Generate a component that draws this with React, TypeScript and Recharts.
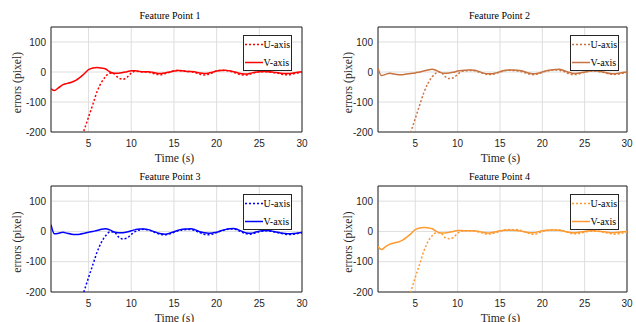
import React from 'react';
import { LineChart, Line, XAxis, YAxis, CartesianGrid, Legend, ReferenceArea } from 'recharts';

// sample times (s)
const TIME = [
  0.6, 1, 1.5, 2, 2.5, 3, 3.5, 4, 4.5, 5, 5.5, 6, 6.5, 7, 7.5, 8, 8.5, 9, 9.5, 10,
  10.5, 11, 11.5, 12, 12.5, 13, 13.5, 14, 14.5, 15, 15.5, 16, 16.5, 17, 17.5, 18, 18.5, 19, 19.5, 20,
  20.5, 21, 21.5, 22, 22.5, 23, 23.5, 24, 24.5, 25, 25.5, 26, 26.5, 27, 27.5, 28, 28.5, 29, 29.5, 30,
];

const N = null;

// Feature point 1
const U1 = [
  N, N, N, N, N, N, N, -235, -192, -150, -108, -65, -35, -15, -4, -6, -20, -24, -18, -4,
  3, 1, 0, -1, -4, -8, -9, -5, -1, 4, 6, 3, 2, 1, -2, -7, -10, -8, -3, 4,
  6, 5, 3, -1, -6, -10, -10, -6, -2, 1, 1, 0, -1, -3, -6, -9, -9, -6, -3, -1,
];
const V1 = [
  -55, -62, -52, -42, -38, -34, -28, -18, -6, 8, 13, 15, 13, 10, 0, -4, -4, -2, 1, 4,
  4, 2, 1, 1, -1, -4, -5, -3, 0, 3, 5, 4, 2, 2, 0, -3, -5, -4, -1, 3,
  5, 6, 4, 1, -3, -6, -7, -4, -1, 1, 2, 1, 0, -2, -4, -5, -5, -3, -1, 1,
];

// Feature point 2
const U2 = [
  N, N, N, N, N, N, N, -240, -198, -155, -112, -70, -38, -16, -3, 0, -15, -22, -19, -8,
  2, 4, 5, 4, 0, -5, -8, -8, -5, 0, 4, 6, 5, 4, 2, -3, -7, -9, -6, -1,
  3, 6, 7, 6, 2, -4, -8, -8, -5, -1, 2, 3, 2, 0, -3, -7, -8, -7, -4, -2,
];
const V2 = [
  13, -12, -8, -4, -7, -9, -9, -7, -5, -3, 0, 3, 7, 9, 5, -2, -4, -3, -1, 3,
  5, 6, 7, 6, 2, -3, -6, -6, -3, 1, 5, 7, 7, 6, 4, 0, -4, -6, -4, 0,
  4, 7, 8, 9, 5, 0, -4, -5, -3, 0, 3, 4, 3, 1, -2, -5, -6, -4, -2, 0,
];

// Feature point 3
const U3 = [
  N, N, N, N, N, N, N, -238, -195, -152, -110, -68, -36, -14, -2, -2, -18, -25, -22, -10,
  0, 5, 7, 5, 0, -6, -10, -11, -8, -3, 2, 5, 6, 6, 2, -4, -9, -11, -9, -4,
  1, 5, 8, 8, 3, -3, -8, -9, -5, -1, 1, 2, 0, -3, -6, -9, -10, -9, -7, -5,
];
const V3 = [
  22, -8, -6, -3, -6, -9, -10, -9, -6, -3, 0, 3, 7, 9, 5, -2, -4, -4, -2, 2,
  6, 8, 8, 6, 1, -4, -8, -9, -6, -1, 4, 7, 8, 9, 5, -1, -4, -6, -5, -3,
  2, 6, 9, 10, 6, 0, -5, -6, -3, 1, 3, 3, 1, -2, -5, -7, -8, -7, -5, -3,
];

// Feature point 4
const U4 = [
  N, N, N, N, N, N, N, -240, -196, -152, -110, -66, -34, -14, -4, -5, -20, -24, -20, -6,
  1, 2, 2, 1, -2, -6, -9, -8, -4, 0, 5, 6, 5, 6, 3, -2, -7, -10, -6, 0,
  3, 4, 5, 5, 2, -3, -7, -8, -6, -2, 0, 1, 1, -1, -4, -7, -9, -8, -5, -2,
];
const V4 = [
  -50, -60, -50, -42, -38, -35, -29, -19, -7, 6, 11, 13, 12, 9, 0, -5, -5, -3, 0, 3,
  3, 2, 2, 2, 0, -3, -5, -4, -1, 2, 4, 4, 4, 3, 1, -2, -4, -4, -1, 2,
  4, 5, 5, 4, 1, -2, -4, -4, -2, 0, 2, 2, 1, 0, -2, -4, -4, -3, -1, 0,
];

const U_SERIES = [U1, U2, U3, U4];
const V_SERIES = [V1, V2, V3, V4];
const TITLES = ['Feature Point 1', 'Feature Point 2', 'Feature Point 3', 'Feature Point 4'];
const COLORS = ['#ff0000', '#c8733f', '#0000ff', '#ff9a30'];

const X_TICKS = [5, 10, 15, 20, 25, 30];
const Y_TICKS = [-200, -100, 0, 100];

const SERIF = '"Liberation Serif", "Times New Roman", serif';
const SANS = '"Liberation Sans", Arial, sans-serif';
const INK = '#262626';

const W = 318;
const H = 161;

const PANELS = [
  { x: 0, y: 0, left: 51, right: 302, top: 27, bottom: 132, legendX: 243, legendY: 35, titleX: 170, titleY: 18.8, yLabX: 21, xLabY: 161.7 },
  { x: 318, y: 0, left: 60, right: 309, top: 27, bottom: 132, legendX: 252, legendY: 35, titleX: 181.5, titleY: 18.8, yLabX: 33.7, xLabY: 161.7 },
  { x: 0, y: 161, left: 51, right: 302, top: 25, bottom: 131, legendX: 243, legendY: 33, titleX: 170, titleY: 19.3, yLabX: 21, xLabY: 160.5 },
  { x: 318, y: 161, left: 60, right: 309, top: 25, bottom: 131, legendX: 252, legendY: 33, titleX: 181.5, titleY: 19.3, yLabX: 33.7, xLabY: 160.5 },
];

function LegendBox({ payload }: any) {
  return (
    <svg width={49} height={36} style={{ display: 'block' }}>
      <rect x={0.5} y={0.5} width={48} height={35} fill="#fff" stroke={INK} />
      {(payload || []).map((entry: any, i: number) => {
        const cy = 9.5 + i * 18;
        return (
          <g key={entry.value}>
            <line
              x1={2}
              x2={20}
              y1={cy}
              y2={cy}
              stroke={entry.color}
              strokeWidth={1.5}
              strokeDasharray={i === 0 ? '2 2' : undefined}
            />
            <text x={20.5} y={cy + 3.5} fontSize={10} fontFamily={SERIF} fill="#000">
              {entry.value}
            </text>
          </g>
        );
      })}
    </svg>
  );
}

function Panel({ idx }: { idx: number }) {
  const p = PANELS[idx];
  const color = COLORS[idx];
  const rows = TIME.map((t, i) => ({ t, u: U_SERIES[idx][i], v: V_SERIES[idx][i] }));
  const midY = (p.top + p.bottom) / 2;
  const midX = (p.left + p.right) / 2;

  return (
    <div style={{ position: 'absolute', left: p.x, top: p.y, width: W, height: H }}>
      <LineChart
        width={W}
        height={H}
        data={rows}
        margin={{ top: p.top, right: W - p.right, bottom: 0, left: 0 }}
      >
        <CartesianGrid stroke="#dedede" strokeWidth={1} />
        <XAxis
          dataKey="t"
          type="number"
          domain={[0.6, 30]}
          allowDataOverflow
          ticks={X_TICKS}
          interval={0}
          height={H - p.bottom}
          tickLine={false}
          axisLine={false}
          tickSize={0}
          tickMargin={8}
          tick={{ fontSize: 10, fill: INK, fontFamily: SANS }}
        />
        <YAxis
          type="number"
          domain={[-200, 150]}
          allowDataOverflow
          ticks={Y_TICKS}
          interval={0}
          width={p.left}
          tickLine={false}
          axisLine={false}
          tickSize={0}
          tickMargin={5}
          tick={{ fontSize: 10, fill: INK, fontFamily: SANS }}
        />
        <ReferenceArea x1={0.6} x2={30} y1={-200} y2={150} fill="none" stroke={INK} strokeWidth={1} />
        <Line
          name="U-axis"
          dataKey="u"
          type="monotone"
          stroke={color}
          strokeWidth={1.5}
          strokeDasharray="2 2"
          dot={false}
          isAnimationActive={false}
        />
        <Line
          name="V-axis"
          dataKey="v"
          type="monotone"
          stroke={color}
          strokeWidth={1.5}
          dot={false}
          isAnimationActive={false}
        />
        <Legend
          layout="vertical"
          align="center"
          verticalAlign="middle"
          content={<LegendBox />}
          wrapperStyle={{ left: p.legendX, top: p.legendY, width: 49, height: 36 }}
        />
      </LineChart>
      <svg
        width={W}
        height={H}
        style={{ position: 'absolute', left: 0, top: 0, overflow: 'visible', pointerEvents: 'none' }}
      >
        <text x={p.titleX} y={p.titleY} textAnchor="middle" fontSize={10} fontFamily={SERIF} fill="#000">
          {TITLES[idx]}
        </text>
        <text
          x={p.yLabX}
          y={midY + 3}
          textAnchor="middle"
          fontSize={11.7}
          fontFamily={SERIF}
          fill={INK}
          transform={`rotate(-90 ${p.yLabX} ${midY + 3})`}
        >
          errors (pixel)
        </text>
        <text x={midX - 2} y={p.xLabY} textAnchor="middle" fontSize={11.7} fontFamily={SERIF} fill={INK}>
          Time (s)
        </text>
      </svg>
    </div>
  );
}

export default function App() {
  return (
    <div
      style={{
        position: 'absolute',
        left: 0,
        top: 0,
        width: 636,
        height: 322,
        background: '#fff',
        overflow: 'hidden',
      }}
    >
      {[0, 1, 2, 3].map((i) => (
        <Panel key={i} idx={i} />
      ))}
    </div>
  );
}
